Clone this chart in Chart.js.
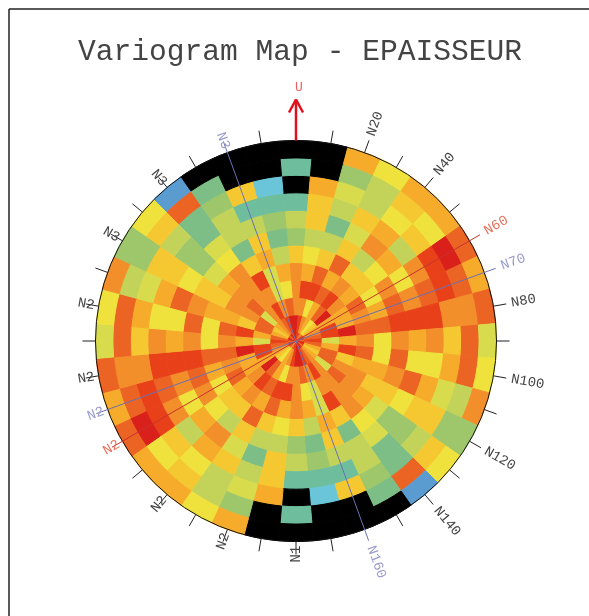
<!DOCTYPE html>
<html>
<head>
<meta charset="utf-8">
<title>Variogram Map</title>
<script src="https://cdn.jsdelivr.net/npm/chart.js@4/dist/chart.umd.min.js"></script>
<style>
html, body { margin: 0; padding: 0; background: #fff; }
canvas { display: block; }
</style>
</head>
<body>
<canvas id="map" width="589" height="616"></canvas>
<script>
// azimuths of the half map, the other half is the same (map is point symmetric)
const azimuths = [0, 10, 20, 30, 40, 50, 60, 70, 80, 90, 100, 110, 120, 130, 140, 150, 160, 170];

// one list per lag ring, inner to outer, one value per azimuth. null = no pairs (black)
const lag0  = [0, 1, 1, 2, 3, 2, 1, 0, 1, 2, 1, 0, 1, 2, 1, 0, 1, 0];
const lag1  = [0, 1, 3, 4, 6, 5, 4, 3, 2, 1, 2, 4, 5, 4, 3, 2, 1, 0];
const lag2  = [3, 3, 6, 4, 2, 0, 4, 1, 1, 7, 4, 2, 2, 7, 3, 1, 3, 2];
const lag3  = [3, 1, 1, 2, 1, 3, 4, 4, 0, 4, 1, 5, 3, 2, 3, 3, 7, 6];
const lag4  = [3, 4, 2, 4, 3, 4, 2, 3, 2, 3, 2, 4, 3, 3, 3, 1, 7, 4];
const lag5  = [5, 6, 5, 2, 5, 5, 6, 4, 2, 6, 6, 4, 5, 4, 3, 5, 4, 8];
const lag6  = [9, 8, 8, 5, 8, 6, 3, 2, 1, 3, 2, 3, 5, 7, 6, 10, 5, 10];
const lag7  = [8, 5, 10, 7, 3, 4, 6, 3, 1, 4, 6, 2, 6, 9, 7, 8, 8, 9];
const lag8  = [11, 5, 8, 5, 4, 8, 3, 2, 1, 3, 6, 4, 5, 9, 10, 8, 11, 11];
const lag9  = [null, 4, 7, 8, 6, 5, 1, 1, 3, 5, 4, 7, 5, 8, 10, 9, 5, 12];
const lag10 = [11, null, 9, 8, 5, 6, 0, 2, 3, 2, 2, 8, 9, 5, 2, 10, null, null];
const lag11 = [null, null, 4, 6, 4, 4, 2, 4, 2, 7, 6, 3, 9, 6, 13, null, null, null];
const lagRings = [lag0, lag1, lag2, lag3, lag4, lag5, lag6, lag7, lag8, lag9, lag10, lag11];

// colour for each value step
const palette = ['#d9201a', '#e8411a', '#ec6424', '#f38f2b', '#f6ac2a', '#f5c832', '#efe23c',
    '#d8dc4c', '#c3d35a', '#9dc76a', '#7cbe86', '#6ebe9e', '#6bc5d8', '#5a9bd0'];

const tickAngles = [10, 20, 30, 40, 50, 60, 70, 80, 90, 100, 110, 120, 130, 140, 150, 160, 170,
    180, 190, 200, 210, 220, 230, 240, 250, 260, 270, 280, 290, 300, 310, 320, 330, 340, 350];

const rightLabels = ['N20', 'N40', 'N80', 'N100', 'N120', 'N140'];
const rightAngles = [20, 40, 80, 100, 120, 140];
const leftLabels = ['N1', 'N2', 'N2', 'N2', 'N2', 'N3', 'N3'];
const leftAngles = [180, 200, 220, 260, 280, 300, 320];

// the highlighted directions: [azimuth, colour, label colour, label, mirrored label]
const directions = [
    [60, '#c8322e', '#e8705c', 'N60', 'N2'],
    [70, '#6d70b0', '#9a9ccc', 'N70', 'N2'],
    [160, '#6d70b0', '#9a9ccc', 'N160', 'N3']
];

const rad = deg => deg * Math.PI / 180;

function cellColor(value) {
    return value === null ? '#000000' : palette[value];
}

// full circle colours for a ring
function ringColors(ring) {
    return ring.concat(ring).map(cellColor);
}

const overlay = {
    id: 'overlay',
    afterDatasetsDraw(chart) {
        const ctx = chart.ctx;
        const arc = chart.getDatasetMeta(0).data[0];
        const cx = arc.x, cy = arc.y, R = arc.outerRadius;
        const pos = (az, r) => [cx + r * Math.sin(rad(az)), cy - r * Math.cos(rad(az))];

        function line(a, b, color, width) {
            ctx.beginPath();
            ctx.moveTo(a[0], a[1]);
            ctx.lineTo(b[0], b[1]);
            ctx.strokeStyle = color;
            ctx.lineWidth = width;
            ctx.stroke();
        }

        // text laid along the radius
        function radialText(text, az, r, color, flipped) {
            const p = pos(az, r);
            ctx.save();
            ctx.translate(p[0], p[1]);
            ctx.rotate(rad(flipped ? az - 270 : az - 90));
            ctx.font = '14px "Liberation Mono", monospace';
            ctx.textAlign = 'left';
            ctx.textBaseline = 'middle';
            ctx.fillStyle = color;
            ctx.fillText(text, 0, 0);
            ctx.restore();
        }

        ctx.save();

        // frame is only top and left in the picture
        line([9, 616], [9, 9], '#222', 1.5);
        line([9, 9], [589, 9], '#222', 1.5);

        // title
        ctx.font = '29.6px "Liberation Mono", monospace';
        ctx.textAlign = 'center';
        ctx.textBaseline = 'alphabetic';
        ctx.fillStyle = '#444';
        ctx.fillText('Variogram Map - EPAISSEUR', 300, 60);

        // outer circle
        ctx.beginPath();
        ctx.arc(cx, cy, R, 0, Math.PI * 2);
        ctx.strokeStyle = '#111';
        ctx.lineWidth = 1;
        ctx.stroke();

        tickAngles.forEach(az => {
            if (directions.some(d => d[0] === az || d[0] + 180 === az)) return;
            line(pos(az, R), pos(az, R + 13), '#222', 1);
        });

        rightLabels.forEach((t, i) => radialText(t, rightAngles[i], R + 18, '#444', false));
        leftLabels.forEach((t, i) => radialText(t, leftAngles[i], R + 21, '#444', true));

        directions.forEach(d => {
            line(pos(d[0], R + 12), pos(d[0] + 180, R + 12), d[1], 1);
            radialText(d[3], d[0], R + 18, d[2], false);
            radialText(d[4], d[0] + 180, R + 21, d[2], true);
        });

        // up arrow
        line([cx, cy - R], [cx, cy - R - 41], '#e0101c', 2.5);
        line([cx - 7, cy - R - 28], [cx, cy - R - 41], '#e0101c', 2.5);
        line([cx + 7, cy - R - 28], [cx, cy - R - 41], '#e0101c', 2.5);
        ctx.font = '13px "Liberation Mono", monospace';
        ctx.textAlign = 'center';
        ctx.textBaseline = 'middle';
        ctx.fillStyle = '#e8605c';
        ctx.fillText('U', cx + 3, cy - R - 53);

        ctx.restore();
    }
};

// Doughnut drawn with one dataset per ring, first dataset is the outer ring.
// The centre lag only covers half a lag so it gets half the weight.
new Chart(document.getElementById('map'), {
    type: 'doughnut',
    data: {
        labels: azimuths.concat(azimuths.map(a => a + 180)).map(a => 'N' + a),
        datasets: lagRings.slice().reverse().map(ring => ({
            data: ring.concat(ring).map(() => 1),
            backgroundColor: ringColors(ring),
            borderColor: ringColors(ring),
            borderWidth: 1,
            weight: ring === lag0 ? 0.5 : 1
        }))
    },
    options: {
        responsive: false,
        animation: false,
        events: [],
        rotation: -5,
        cutout: 0,
        layout: { padding: { left: 95, right: 92, top: 140, bottom: 74 } },
        plugins: {
            legend: { display: false },
            tooltip: { enabled: false }
        }
    },
    plugins: [overlay]
});
</script>
</body>
</html>
